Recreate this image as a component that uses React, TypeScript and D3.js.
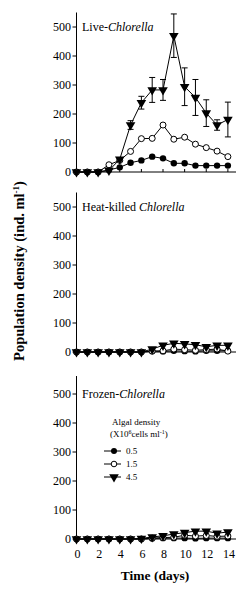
import React, { useEffect, useRef } from 'react';
import * as d3 from 'd3';

const days = d3.range(0, 15);
const xTicks = [0, 2, 4, 6, 8, 10, 12, 14];
const yTicks = [0, 100, 200, 300, 400, 500];
const densities = ['0.5', '1.5', '4.5'];

// Live-Chlorella
const live05 = [0, 0, 0, 7, 16, 32, 40, 53, 47, 30, 30, 22, 22, 22, 22];
const live15 = [0, 0, 0, 25, 40, 71, 115, 116, 162, 113, 120, 96, 84, 72, 53];
const live45 = [0, 0, 0, 5, 44, 162, 239, 283, 283, 470, 294, 257, 203, 162, 181];
const live45Err = [0, 0, 0, 0, 6, 15, 22, 43, 36, 75, 65, 62, 46, 18, 60];

// Heat-killed Chlorella
const heat05 = [0, 0, 0, 0, 0, 0, 0, 3, 2, 4, 3, 2, 4, 4, 4];
const heat15 = [0, 0, 0, 0, 0, 0, 0, 3, 4, 10, 8, 6, 8, 10, 3];
const heat45 = [0, 0, 0, 0, 0, 0, 0, 10, 23, 30, 28, 25, 18, 23, 23];

// Frozen-Chlorella
const froz05 = [0, 0, 0, 0, 0, 0, 0, 2, 3, 3, 3, 2, 3, 3, 3];
const froz15 = [0, 0, 0, 0, 0, 0, 0, 3, 5, 6, 13, 10, 12, 9, 10];
const froz45 = [0, 0, 0, 0, 0, 0, 2, 7, 11, 17, 22, 27, 27, 20, 24];

const panels = [
  { pre: 'Live-', it: 'Chlorella', s05: live05, s15: live15, s45: live45, err: live45Err, y0: 172, top: 550, legend: false },
  { pre: 'Heat-killed ', it: 'Chlorella', s05: heat05, s15: heat15, s45: heat45, err: null, y0: 352, top: 550, legend: false },
  { pre: 'Frozen-', it: 'Chlorella', s05: froz05, s15: froz15, s45: froz45, err: null, y0: 539, top: 562, legend: true },
];

const FONT = '"Liberation Serif", "Times New Roman", serif';
const PX_PER_UNIT = 0.29;

const App = () => {
  const ref = useRef<SVGSVGElement>(null);

  useEffect(() => {
    const svg = d3.select(ref.current);
    svg.selectAll('*').remove();

    const x = d3.scaleLinear().domain([0, 14.75]).range([76.5, 236]);
    const tri = d3.symbol().type(d3.symbolTriangle).size(40);

    panels.forEach((p, pi) => {
      const y = d3.scaleLinear().domain([0, p.top]).range([p.y0, p.y0 - p.top * PX_PER_UNIT]);
      const g = svg.append('g');

      // y axis
      g.append('line').attr('x1', x(0)).attr('x2', x(0)).attr('y1', y(0)).attr('y2', y(p.top))
        .attr('stroke', '#000').attr('stroke-width', 1);
      yTicks.forEach(t => {
        g.append('line').attr('x1', x(0) - 4).attr('x2', x(0)).attr('y1', y(t)).attr('y2', y(t))
          .attr('stroke', '#000');
        g.append('text').attr('x', 71).attr('y', y(t)).attr('dy', '0.35em')
          .attr('text-anchor', 'end').attr('font-family', FONT).attr('font-size', 12).text(t);
      });

      // x axis
      g.append('line').attr('x1', x(0)).attr('x2', x(14.75)).attr('y1', y(0)).attr('y2', y(0))
        .attr('stroke', '#000');
      xTicks.forEach(t => {
        g.append('line').attr('x1', x(t)).attr('x2', x(t)).attr('y1', y(0)).attr('y2', y(0) - 3)
          .attr('stroke', '#000');
        if (pi === 2) {
          g.append('text').attr('x', x(t) + 1).attr('y', y(0) + 15).attr('dy', '0.35em')
            .attr('text-anchor', 'middle').attr('font-family', FONT).attr('font-size', 12).text(t);
        }
      });

      // title
      const ti = g.append('text').attr('x', 82).attr('y', y(500)).attr('dy', '0.35em')
        .attr('font-family', FONT).attr('font-size', 12);
      ti.append('tspan').text(p.pre);
      ti.append('tspan').attr('font-style', 'italic').text(p.it);

      const line = d3.line<number>().x((_, i) => x(days[i])).y(d => y(d));

      // 0.5 filled circles
      g.append('path').attr('d', line(p.s05)).attr('fill', 'none').attr('stroke', '#000');
      p.s05.forEach((v, i) => {
        g.append('circle').attr('cx', x(days[i])).attr('cy', y(v)).attr('r', 3.2).attr('fill', '#000');
      });

      // 1.5 open circles
      g.append('path').attr('d', line(p.s15)).attr('fill', 'none').attr('stroke', '#000');
      p.s15.forEach((v, i) => {
        g.append('circle').attr('cx', x(days[i])).attr('cy', y(v)).attr('r', 3)
          .attr('fill', '#fff').attr('stroke', '#000');
      });

      // 4.5 triangles
      if (p.err) {
        p.err.forEach((e, i) => {
          if (!e) return;
          const v = p.s45[i];
          const cx = x(days[i]);
          g.append('line').attr('x1', cx).attr('x2', cx).attr('y1', y(v - e)).attr('y2', y(v + e)).attr('stroke', '#000');
          [v - e, v + e].forEach(w => {
            g.append('line').attr('x1', cx - 3).attr('x2', cx + 3).attr('y1', y(w)).attr('y2', y(w)).attr('stroke', '#000');
          });
        });
      }
      g.append('path').attr('d', line(p.s45)).attr('fill', 'none').attr('stroke', '#000');
      p.s45.forEach((v, i) => {
        g.append('path').attr('d', tri).attr('transform', `translate(${x(days[i])},${y(v)}) rotate(180)`)
          .attr('fill', '#000');
      });

      if (p.legend) {
        const lg = g.append('g').attr('font-family', FONT).attr('font-size', 9);
        lg.append('text').attr('x', 112).attr('y', 422).attr('dy', '0.35em').text('Algal density');
        const t2 = lg.append('text').attr('x', 110).attr('y', 434).attr('dy', '0.35em');
        t2.append('tspan').text('(X10');
        t2.append('tspan').attr('font-size', 6).attr('dy', -3).text('6');
        t2.append('tspan').attr('dy', 3).text('cells ml');
        t2.append('tspan').attr('font-size', 6).attr('dy', -3).text('-1');
        t2.append('tspan').attr('dy', 3).text(')');
        const rows = [451, 464, 477];
        densities.forEach((d, i) => {
          const ry = rows[i];
          lg.append('line').attr('x1', 104).attr('x2', 121).attr('y1', ry).attr('y2', ry).attr('stroke', '#000');
          if (i === 0) lg.append('circle').attr('cx', 114).attr('cy', ry).attr('r', 3).attr('fill', '#000');
          if (i === 1) lg.append('circle').attr('cx', 114).attr('cy', ry).attr('r', 2.8).attr('fill', '#fff').attr('stroke', '#000');
          if (i === 2) lg.append('path').attr('d', tri).attr('transform', `translate(114,${ry}) rotate(180)`).attr('fill', '#000');
          lg.append('text').attr('x', 126).attr('y', ry).attr('dy', '0.35em').text(d);
        });
      }
    });

    // axis titles
    svg.append('text').attr('x', 155).attr('y', 575).attr('dy', '0.35em').attr('text-anchor', 'middle')
      .attr('font-family', FONT).attr('font-size', 13.5).attr('font-weight', 'bold').text('Time (days)');
    const yl = svg.append('text').attr('transform', 'translate(19,271) rotate(-90)').attr('dy', '0.35em')
      .attr('text-anchor', 'middle').attr('font-family', FONT).attr('font-size', 14.5).attr('font-weight', 'bold');
    yl.append('tspan').text('Population density (ind. ml');
    yl.append('tspan').attr('font-size', 9).attr('dy', -5).text('-1');
    yl.append('tspan').attr('dy', 5).text(')');
  }, []);

  return (
    <svg ref={ref} width={252} height={593} style={{ position: 'absolute', left: 0, top: 0, background: '#fff' }} />
  );
};

export default App;
